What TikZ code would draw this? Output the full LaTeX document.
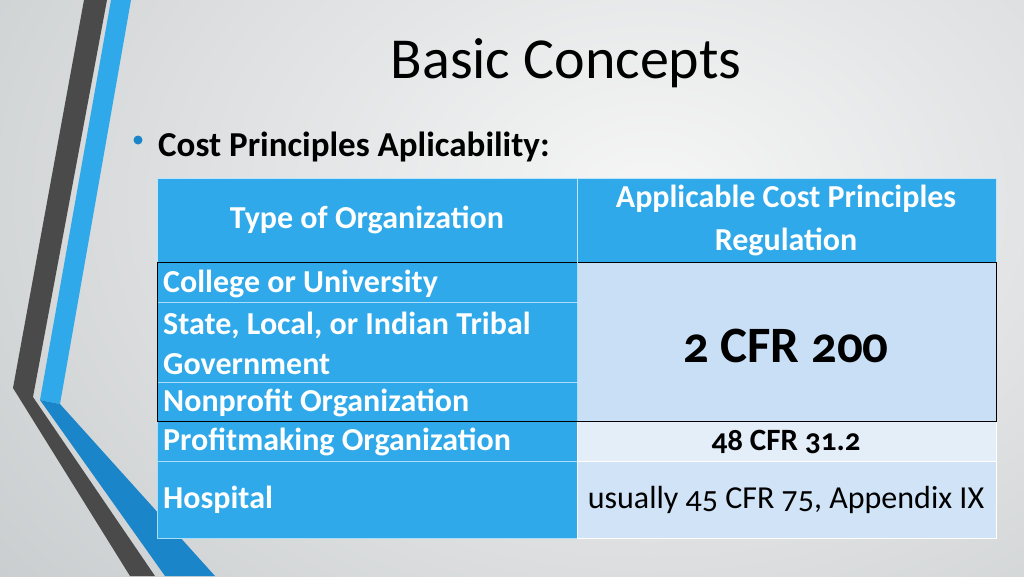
\documentclass[tikz,border=0pt]{standalone}
\usepackage{fontspec}
\setmainfont{Carlito}[Numbers=OldStyle]
\begin{document}
\begin{tikzpicture}[x=1pt,y=-1pt,
  hd/.style={fill=tblue,draw=white!70!tblue,line width=0.6pt},
  lc/.style={fill=tblue,draw=white!60!tblue,line width=0.5pt},
  wt/.style={text=white,inner sep=1pt,font=\bfseries\fontsize{32}{40}\selectfont},
  bk/.style={text=black,font=\fontsize{32}{38}\selectfont}]
\definecolor{tblue}{HTML}{2FA9E9}
\definecolor{lblue}{HTML}{C9DFF6}
\definecolor{llblue}{HTML}{E4EEF9}
\definecolor{mblue}{HTML}{D0E3F7}
\definecolor{dgray}{HTML}{4A4A4A}
\definecolor{dblue}{HTML}{1A86C9}
\definecolor{bgA}{HTML}{F6F6F6}
\definecolor{bgB}{HTML}{C4C8CA}
\useasboundingbox (0,0) rectangle (1024,576);
\shade[inner color=bgA, outer color=bgB] (-300,-500) rectangle (1600,900);
% left decoration
\fill[dgray] (84,0) -- (107,0) -- (33,397) -- (155,576) -- (130,576) -- (13,388) -- cycle;
\fill[tblue] (111,0) -- (131,0) -- (60,404) -- (40,400) -- cycle;
\fill[dblue] (40,400) -- (60,404) -- (215,576) -- (165,576) -- cycle;
% title
\node (title) at (566,63) {\fontsize{58}{64}\selectfont Basic Concepts};
\fill[dblue] (138,140) circle (4.5);
\node[anchor=west,inner sep=0pt] (sub) at (158,147) {\bfseries\fontsize{35}{40}\selectfont Cost Principles Aplicability:};
% table cells
\path[hd] (157,178) rectangle (577,262);
\path[hd] (577,178) rectangle (996,262);
\path[lc] (157,262) rectangle (577,302);
\path[lc] (157,302) rectangle (577,382);
\path[lc] (157,382) rectangle (577,421);
\path[lc] (157,421) rectangle (577,461);
\path[lc] (157,461) rectangle (577,538);
\path[fill=lblue] (577,262) rectangle (996,421);
\path[fill=llblue,draw=white,line width=0.6pt] (577,421) rectangle (996,461);
\path[fill=mblue,draw=white,line width=0.6pt] (577,461) rectangle (996,538);
\draw[black,line width=0.8pt] (157,262) rectangle (996,421);
\draw[white!60!tblue,line width=0.6pt] (577,262) -- (577,421);
% texts
\node[wt] (h1) at (367,220) {Type of Organization};
\node[wt,align=center,font=\bfseries\fontsize{32}{43}\selectfont] (h2) at (786,220) {Applicable Cost Principles\\Regulation};
\node[wt,anchor=west] (r1) at (162,284) {College or University};
\node[wt,anchor=west,align=left] (r2) at (162,343) {State, Local, or Indian Tribal\\Government};
\node[wt,anchor=west] (r3) at (162,403) {Nonprofit Organization};
\node[wt,anchor=west] (r4) at (162,442) {Profitmaking Organization};
\node[wt,anchor=west] (r5) at (162,500) {Hospital};
\node[text=black,font=\bfseries\fontsize{51}{56}\selectfont] (c1) at (786,346) {2 CFR 200};
\node[text=black,font=\bfseries\fontsize{31}{36}\selectfont] (c2) at (786,442) {48 CFR 31.2};
\node[bk] (c3) at (786,500) {usually 45 CFR 75, Appendix IX};
\end{tikzpicture}
\end{document}
